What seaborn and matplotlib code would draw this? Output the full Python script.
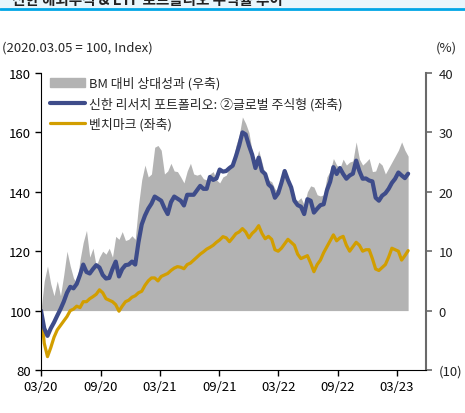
import numpy as np
import pandas as pd
import seaborn as sns
from matplotlib import pyplot as plt
import matplotlib.dates as mdates
import matplotlib.patches as mpatches
import matplotlib.lines as mlines

sns.set_style('white')
plt.rcParams['font.family'] = ['Noto Sans CJK KR', 'DejaVu Sans']

# Dates: every 10 days from the base date 2020.03.05
dates = pd.date_range('2020-03-05', periods=114, freq='10D')

# Shinhan research portfolio: (2) global equity (left axis)
portfolio = [100, 94, 91.5, 94, 96, 98.3, 100.5, 103, 106, 108,
             107.5, 109, 112, 115.5, 113, 112.5, 114, 115.3, 114.5, 112,
             110.8, 111, 114, 116.5, 111.5, 114, 115.3, 115.5, 116.5, 115.5,
             123, 129, 132, 134.3, 136, 138.4, 137.7, 137, 134.5, 132.5,
             136.5, 138.4, 137.7, 137, 135.4, 139, 139, 139, 140.5, 142,
             141, 141, 145, 144, 144.5, 147.5, 146.8, 147, 148, 148.8,
             152, 155.6, 160, 159.3, 155.6, 152.5, 148, 151.5, 147, 146,
             142.5, 141.5, 138, 139.5, 143, 147, 144, 141.5, 137, 135.5,
             135, 132.5, 137.5, 137, 133, 134.3, 135.5, 135.8, 140.5, 143.4,
             148.3, 146, 148, 146, 144.4, 145.5, 146.1, 150.5, 147, 144.4,
             144.5, 143.8, 143.5, 138, 137, 138.7, 139.5, 141, 143, 144.4,
             146.5, 145.5, 144.6, 146.1]

# Benchmark (left axis)
benchmark = [100, 89, 84.5, 87.5, 91, 93.5, 95, 96.5, 98, 100,
             100.5, 101.5, 101, 103, 103, 104, 104.7, 105.5, 107, 106,
             104, 103.5, 103, 102, 99.8, 101.5, 103, 103.5, 104.5, 105,
             106, 106.5, 108.5, 110, 111, 111, 110, 111.5, 112, 112.5,
             113.5, 114.3, 114.8, 114.6, 114.1, 115.5, 116, 117, 118, 119,
             119.8, 120.7, 121.3, 122, 123, 123.8, 124.9, 124.5, 123.2, 124.5,
             125.9, 126.5, 127.6, 126.5, 124.5, 126, 127, 128.6, 126, 124.2,
             125, 124, 120.5, 120, 121, 122.5, 124, 123, 122, 119,
             117.5, 118, 118.5, 116, 113.1, 115.5, 117, 119.5, 121.5, 123.5,
             125.5, 123.5, 124.5, 125, 122, 120, 121.5, 123, 122, 120,
             120.5, 120.5, 117.5, 114, 113.5, 114.5, 115.5, 118, 121, 120.5,
             120, 117, 118.5, 120.2]

# Relative performance vs BM, % (right axis)
relative = [0, 5, 7.5, 4.5, 2.5, 5, 2.5, 6, 10, 7.5,
            5.5, 4.5, 8.5, 11.5, 13.5, 9, 10.5, 7.5, 9, 10,
            9.5, 10.5, 9, 12.5, 12, 13.3, 11.8, 12, 12.6, 12,
            17.7, 22, 24.5, 22.5, 23, 27.5, 27.8, 27, 23, 23.5,
            24.8, 23.5, 23.4, 22.5, 21.5, 23.5, 24.8, 23, 22.8, 23,
            22.2, 22, 23, 23.4, 22, 21.5, 22.5, 22.8, 24, 25,
            27.8, 29.5, 32.6, 31.5, 30, 26.8, 25, 27, 25, 22.8,
            22, 21.7, 20.5, 20, 22, 23.9, 22.5, 21, 18.9, 18.5,
            19, 17.8, 20, 21, 20.8, 19.5, 19.3, 19.5, 22.5, 23.5,
            25.6, 24.5, 24, 25.5, 24.5, 25, 25.2, 28.4, 25.5, 24.5,
            25, 25.6, 23.4, 23.5, 25, 24.5, 23, 24, 25, 26,
            27, 28.4, 27, 26]

left_ticks = [80, 100, 120, 140, 160, 180]
right_ticks = [-10, 0, 10, 20, 30, 40]
right_labels = ['(10)', '0', '10', '20', '30', '40']
x_ticks = [pd.Timestamp('2020-03-05') + pd.DateOffset(months=6 * k) for k in range(7)]

blue = '#3E4C8A'
gold = '#D29E00'
grey = '#B3B3B3'

fig = plt.figure(figsize=(4.65, 4.14), dpi=100)

# Title strip (cut off at the top of the picture, as in the source)
fig.patches.append(mpatches.Rectangle((0, 1 - 10 / 414), 1, 10 / 414, transform=fig.transFigure,
                                      facecolor='#E8F6FC', edgecolor='none'))
fig.add_artist(mlines.Line2D([0, 1], [1 - 10 / 414, 1 - 10 / 414], transform=fig.transFigure,
                             color='#00A6E6', linewidth=2))
fig.text(12 / 465, 1 - 8 / 414, '신한 해외주식 & ETF 포트폴리오 수익률 추이', fontsize=10.5,
         fontweight='bold', color='#222222', ha='left', va='bottom')

ax = fig.add_axes([41 / 465, 1 - 371 / 414, 385 / 465, 297 / 414])
ax2 = ax.twinx()

# Gray area on right axis, drawn behind the lines
ax2.fill_between(dates, 0, relative, color=grey, linewidth=0)
ax.set_zorder(ax2.get_zorder() + 1)
ax.patch.set_visible(False)

sns.lineplot(x=dates, y=benchmark, ax=ax, color=gold, linewidth=2.3)
sns.lineplot(x=dates, y=portfolio, ax=ax, color=blue, linewidth=3)

# Axes settings
ax.set_ylim(80, 180)
ax.set_yticks(left_ticks)
ax2.set_ylim(-10, 40)
ax2.set_yticks(right_ticks)
ax2.set_yticklabels(right_labels)
ax.set_xlim(pd.Timestamp('2020-03-05'), pd.Timestamp('2023-06-03'))
ax.set_xticks(x_ticks)
ax.xaxis.set_major_formatter(mdates.DateFormatter('%m/%y'))

for a in (ax, ax2):
    a.spines['top'].set_visible(False)
ax.spines['right'].set_visible(False)
ax2.spines['left'].set_visible(False)
ax2.spines['bottom'].set_visible(False)
ax.spines['left'].set_color('black')
ax.spines['bottom'].set_color('black')
ax2.spines['right'].set_color('#6A6A6A')
ax2.spines['right'].set_linewidth(1.5)

ax.tick_params(axis='both', direction='out', length=4, width=1, labelsize=9.5, colors='black', pad=3)
ax.tick_params(axis='y', left=True)
ax.tick_params(axis='x', bottom=True)
ax2.tick_params(axis='y', direction='out', length=4, width=1.2, labelsize=9.5, color='#6A6A6A',
                labelcolor='#222222', right=True, pad=5)
ax.set_xlabel('')
ax.set_ylabel('')
ax.grid(False)
ax2.grid(False)

# Unit labels
fig.text(2 / 465, 1 - 48 / 414, '(2020.03.05 = 100, Index)', fontsize=9.5, ha='left', va='center')
fig.text(457 / 465, 1 - 48 / 414, '(%)', fontsize=9.5, ha='right', va='center')

# Legend
h_bm = mpatches.Patch(color=grey, label='BM 대비 상대성과 (우축)')
h_pf = mlines.Line2D([], [], color=blue, linewidth=3, label='신한 리서치 포트폴리오: ②글로벌 주식형 (좌축)')
h_bench = mlines.Line2D([], [], color=gold, linewidth=2.3, label='벤치마크 (좌축)')
ax.legend(handles=[h_bm, h_pf, h_bench], loc='upper left', frameon=False, fontsize=9.3,
          handlelength=2.7, handletextpad=0.3, labelspacing=0.55,
          bbox_to_anchor=(0.0, 1.02), borderaxespad=0.3)

plt.savefig('out.png', dpi=100)
